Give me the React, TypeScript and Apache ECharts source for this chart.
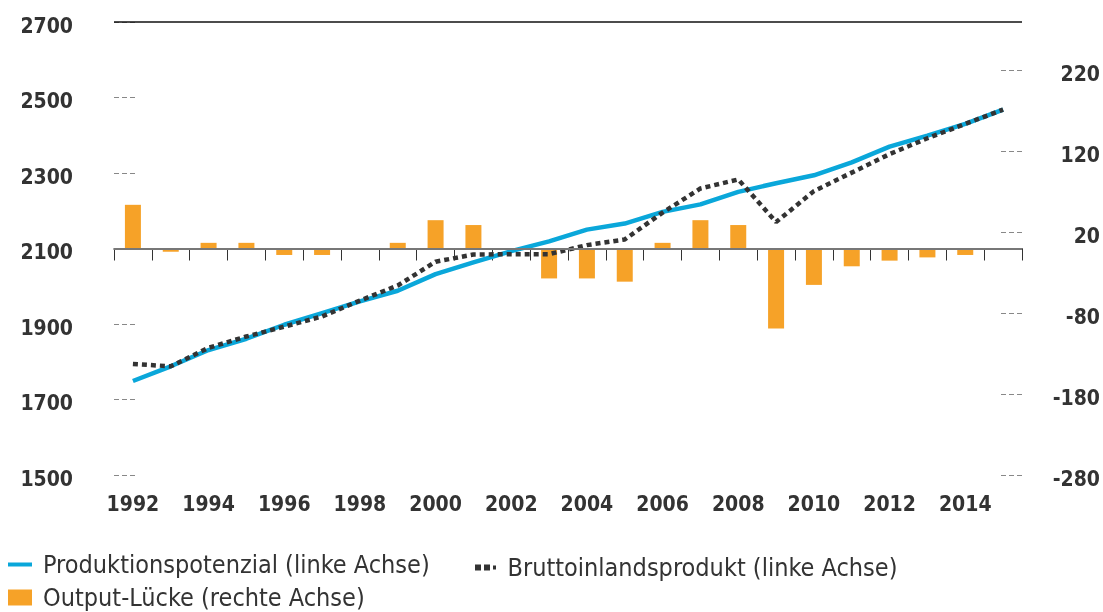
import React, { useEffect, useRef } from "react";
import * as echarts from "echarts";

const years = ["1992","1993","1994","1995","1996","1997","1998","1999","2000","2001","2002","2003","2004","2005","2006","2007","2008","2009","2010","2011","2012","2013","2014","2015"];
const potential = [1749,1788,1831,1861,1898,1929,1960,1988,2032,2063,2093,2119,2150,2166,2197,2217,2250,2273,2294,2328,2370,2399,2430,2468];
const gdp = [1794,1788,1837,1867,1893,1920,1962,2002,2065,2084,2085,2085,2109,2124,2195,2259,2283,2170,2252,2301,2350,2392,2430,2468];
const gap = [54,-4,7,7,-8,-8,0,7,35,29,-1,-37,-37,-41,7,35,29,-99,-45,-22,-15,-11,-8,null];

const nameP = "Produktionspotenzial (linke Achse)";
const nameG = "Bruttoinlandsprodukt (linke Achse)";
const nameB = "Output-Lücke (rechte Achse)";

const FONT = "'DejaVu Sans Condensed', 'DejaVu Sans', sans-serif";
const TXT = "#333333";

export default function App() {
  const ref = useRef<HTMLDivElement>(null);
  useEffect(() => {
    if (!ref.current) return;
    const chart = echarts.init(ref.current, null, { renderer: "svg" });
    const legendText = { fontSize: 25, lineHeight: 25, color: TXT, fontFamily: FONT, padding: [0, 0, 0, 6] };
    const axisFont = { fontSize: 21, fontWeight: "bold", color: TXT, fontFamily: FONT };
    const yRich = { v: { ...axisFont, padding: [7, 0, 0, 0] } };
    chart.setOption({
      animation: false,
      textStyle: { fontFamily: FONT },
      grid: { left: 114, right: 81, top: 22, bottom: 137 },
      legend: [
        {
          left: 8, top: 552, itemWidth: 24, itemHeight: 4, padding: 0,
          data: [{ name: nameP, icon: "rect" }], textStyle: legendText,
        },
        {
          left: 475, top: 555, itemWidth: 22, itemHeight: 6, padding: 0,
          data: [{ name: nameG, icon: "path://M0,0h6v6h-6z M9,0h6v6h-6z M18,1h3v4h-3z" }], textStyle: legendText,
        },
        {
          left: 8, top: 585, itemWidth: 24, itemHeight: 16, padding: 0,
          data: [{ name: nameB, icon: "rect" }], textStyle: legendText,
        },
      ],
      xAxis: {
        type: "category",
        data: years,
        boundaryGap: true,
        axisLine: { lineStyle: { color: "#333", width: 1.5 } },
        axisTick: { show: true, interval: 0, length: 12, lineStyle: { color: "#333", width: 1 } },
        axisLabel: { interval: 1, margin: 18, ...axisFont },
        splitLine: { show: false },
      },
      yAxis: [
        {
          type: "value", min: 1500, max: 2700, interval: 200,
          axisLine: { show: false },
          axisTick: { show: true, inside: true, length: 22, lineStyle: { color: "#888", width: 1.2, type: [5, 3] } },
          axisLabel: { margin: 41, formatter: (v: number) => "{v|" + v + "}", rich: yRich, ...axisFont },
          splitLine: { show: false },
        },
        {
          type: "value", min: -280, max: 280, interval: 100,
          axisLine: { show: false },
          axisTick: { show: true, inside: true, length: 24, lineStyle: { color: "#888", width: 1.2, type: [5, 3] } },
          axisLabel: { margin: 78, align: "right", showMaxLabel: false, formatter: (v: number) => "{v|" + v + "}", rich: yRich, ...axisFont },
          splitLine: { show: false },
        },
      ],
      series: [
        {
          name: nameB, type: "bar", yAxisIndex: 1, data: gap, barWidth: 16,
          itemStyle: { color: "#f6a228" }, z: 2,
          markLine: {
            silent: true, symbol: "none", label: { show: false },
            lineStyle: { color: "#777", width: 2, type: "solid" },
            data: [{ yAxis: 0 }],
          },
        },
        {
          name: nameP, type: "line", yAxisIndex: 0, data: potential, showSymbol: false,
          lineStyle: { color: "#0aa7da", width: 4.5 }, itemStyle: { color: "#0aa7da" }, z: 3,
          markLine: {
            silent: true, symbol: "none", label: { show: false },
            lineStyle: { color: "#111", width: 1.5, type: "solid" },
            data: [{ yAxis: 2700 }],
          },
        },
        {
          name: nameG, type: "line", yAxisIndex: 0, data: gdp, showSymbol: false,
          lineStyle: { color: "#333", width: 4.5, type: [5, 4], cap: "butt" }, itemStyle: { color: "#333" }, z: 4,
        },
      ],
    });
    return () => chart.dispose();
  }, []);
  return <div ref={ref} style={{ position: "fixed", left: 0, top: 0, width: 1103, height: 612 }} />;
}
